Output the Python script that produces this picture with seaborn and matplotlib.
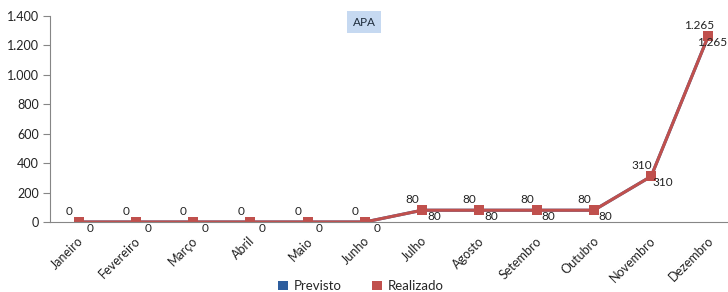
import matplotlib
matplotlib.use("Agg")
import matplotlib.pyplot as plt
import matplotlib.transforms as mtransforms
from matplotlib.patches import Patch
import seaborn as sns
import pandas as pd

months = ["Janeiro", "Fevereiro", "Março", "Abril", "Maio", "Junho",
          "Julho", "Agosto", "Setembro", "Outubro", "Novembro", "Dezembro"]
previsto = [0, 0, 0, 0, 0, 0, 80, 80, 80, 80, 310, 1265]
realizado = [0, 0, 0, 0, 0, 0, 80, 80, 80, 80, 310, 1265]
yticks = [0, 200, 400, 600, 800, 1000, 1200, 1400]
title = "APA"

BLUE = "#2E5E9E"
RED = "#C0504D"
GRAY = "#868686"
TXT = "#222222"

sns.set_theme(style="white")
plt.rcParams['font.family'] = ['Lato', 'DejaVu Sans']

def fmt(v):
    return f"{v:,.0f}".replace(",", ".")

df = pd.DataFrame({"x": range(len(months)), "Previsto": previsto, "Realizado": realizado})

fig = plt.figure(figsize=(7.28, 2.92), dpi=100)
ax = fig.add_axes([50/728, 70/292, 687/728, 206/292])

sns.lineplot(data=df, x="x", y="Previsto", ax=ax, color=BLUE, marker="s",
             markersize=7.5, linewidth=2.2, markeredgewidth=0, legend=False)
sns.lineplot(data=df, x="x", y="Realizado", ax=ax, color=RED, marker="s",
             markersize=7.5, linewidth=2.2, markeredgewidth=0, legend=False)

ax.set_xlim(-0.5, len(months) - 0.5)
ax.set_ylim(0, 1400)
ax.set_yticks(yticks)
ax.set_yticklabels([fmt(v) for v in yticks], fontsize=9, color=TXT)
ax.set_xticks([i + 0.5 for i in range(-1, len(months))], minor=False)
ax.set_xticklabels([])
ax.set_xticks(range(len(months)), minor=True)
ax.set_xticklabels(months, minor=True, rotation=45, ha="right", va="top", fontsize=9, color=TXT)
ax.tick_params(axis="x", which="minor", length=0, pad=7)
ax.tick_params(axis="x", which="major", length=5, color=GRAY, width=0.8, direction="out")
ax.tick_params(axis="y", length=5, color=GRAY, width=0.8, direction="out", left=True, pad=3)
offset = mtransforms.ScaledTranslation(0.07, -0.03, fig.dpi_scale_trans)
for lab in ax.get_xticklabels(minor=True):
    lab.set_transform(lab.get_transform() + offset)
ax.set_xlabel("")
ax.set_ylabel("")
for s in ["top", "right"]:
    ax.spines[s].set_visible(False)
for s in ["left", "bottom"]:
    ax.spines[s].set_color(GRAY)
    ax.spines[s].set_linewidth(0.8)

last = len(months) - 1
for i, (p, r) in enumerate(zip(previsto, realizado)):
    ax.annotate(fmt(p), (i, p), xytext=(-7, 7.5), textcoords="offset points",
                ha="center", va="center", fontsize=8.5, color=TXT, annotation_clip=False)
    if i == last:
        # keep the last label inside the picture's right edge
        ax.annotate(fmt(r), xy=(1 - 1/728, r), xycoords=("figure fraction", "data"),
                    xytext=(0, -4.5), textcoords="offset points",
                    ha="right", va="center", fontsize=8.5, color=TXT, annotation_clip=False)
    else:
        ax.annotate(fmt(r), (i, r), xytext=(8.5, -4.5), textcoords="offset points",
                    ha="center", va="center", fontsize=8.5, color=TXT, annotation_clip=False)

fig.text(364/728, 1 - 22/292, title, ha="center", va="center", fontsize=8.5, color="#1F2D3D",
         bbox=dict(boxstyle="square,pad=0.45", facecolor="#C6D9F1", edgecolor="none"))

handles = [Patch(facecolor=BLUE, edgecolor="none", label="Previsto"),
           Patch(facecolor=RED, edgecolor="none", label="Realizado")]
fig.legend(handles=handles, loc="center", bbox_to_anchor=(361/728, 1 - 286/292), ncol=2,
           frameon=False, fontsize=9.5, handlelength=0.75, handleheight=0.75,
           handletextpad=0.45, columnspacing=2.3)

fig.savefig("out.png", dpi=100)
